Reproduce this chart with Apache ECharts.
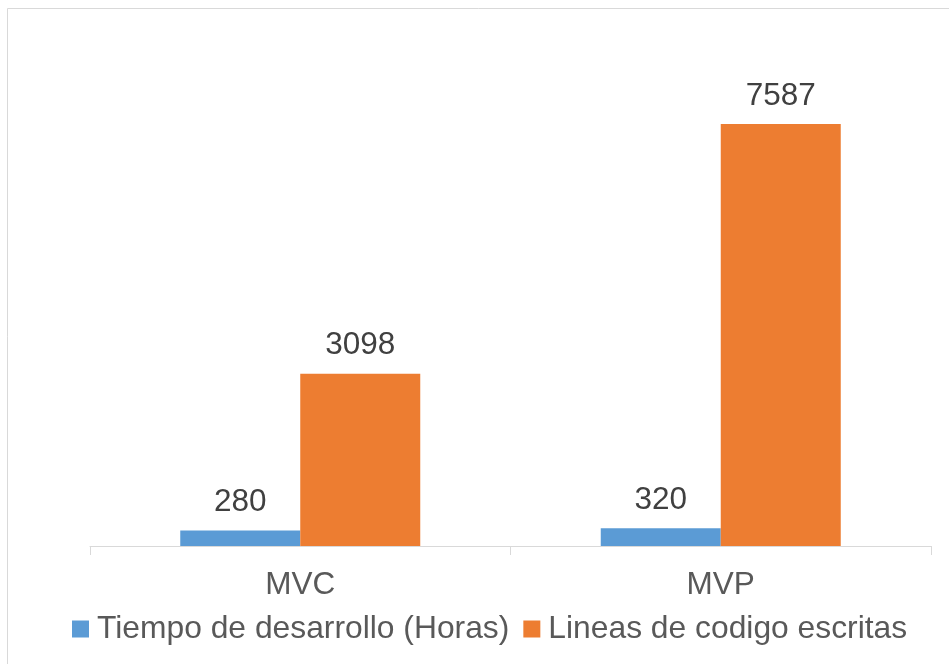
<!DOCTYPE html>
<html>
<head>
<meta charset="utf-8">
<script src="https://cdn.jsdelivr.net/npm/echarts@6/dist/echarts.min.js"></script>
<style>
  html, body { margin: 0; padding: 0; background: #fff; }
  #chart { width: 949px; height: 664px; }
</style>
</head>
<body>
<div id="chart"></div>
<script>
// datos
const categories = ['MVC', 'MVP']
const seriesNames = ['Tiempo de desarrollo (Horas)', 'Lineas de codigo escritas']
const horas = [280, 320]
const lineas = [3098, 7587]

const FONT = 'Liberation Sans, Arial, sans-serif'

const chart = echarts.init(document.getElementById('chart'))

function labelStyle() {
  return {
    show: true,
    position: 'top',
    distance: 12,
    fontFamily: FONT,
    fontSize: 31.5,
    color: '#404040',
  }
}

chart.setOption({
  animation: false,
  backgroundColor: '#fff',
  graphic: [
    {
      type: 'rect',
      shape: { x: 7.5, y: 8.5, width: 980, height: 700 },
      style: { fill: 'none', stroke: '#d9d9d9', lineWidth: 1 },
      silent: true,
    },
  ],
  grid: {
    left: 90,
    right: 18,
    top: 101,
    bottom: 118,
  },
  legend: {
    bottom: 19,
    left: 72,
    padding: 0,
    itemWidth: 17,
    itemHeight: 17,
    itemGap: 14,
    icon: 'rect',
    textStyle: {
      fontFamily: FONT,
      fontSize: 31.8,
      color: '#595959',
      padding: [0, 0, 0, 3],
    },
    data: seriesNames,
  },
  xAxis: {
    type: 'category',
    data: categories,
    axisLine: { lineStyle: { color: '#d9d9d9', width: 1 } },
    axisTick: { show: true, length: 9, lineStyle: { color: '#d9d9d9' } },
    axisLabel: {
      fontFamily: FONT,
      fontSize: 31.5,
      color: '#595959',
      margin: 23,
    },
  },
  yAxis: {
    type: 'value',
    min: 0,
    max: 8000,
    interval: 1000,
    show: false,
    splitLine: { show: false },
  },
  series: [
    {
      name: seriesNames[0],
      type: 'bar',
      data: horas,
      barWidth: 120,
      barGap: '0%',
      itemStyle: { color: '#5B9BD5' },
      label: labelStyle(),
    },
    {
      name: seriesNames[1],
      type: 'bar',
      data: lineas,
      barWidth: 120,
      barGap: '0%',
      itemStyle: { color: '#ED7D31' },
      label: labelStyle(),
    },
  ],
})
</script>
</body>
</html>
